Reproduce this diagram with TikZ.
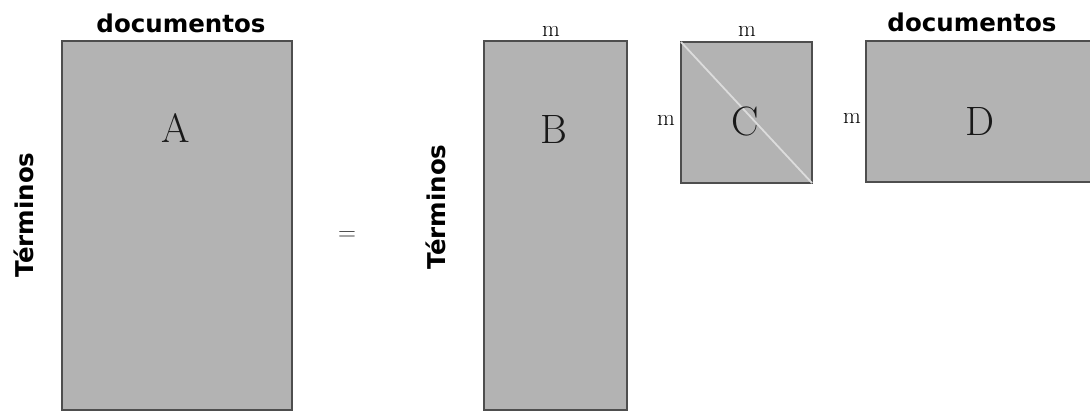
\documentclass[tikz,border=0pt]{standalone}
\usepackage{fontspec}
\newfontfamily\labfont{DejaVu Sans}
\definecolor{matfill}{HTML}{B3B3B3}
\definecolor{matedge}{HTML}{4E4E4E}
\definecolor{diagline}{HTML}{DCDCDC}
\tikzset{
  mat/.style={draw=matedge, fill=matfill, line width=1.4pt, inner sep=0pt, outer sep=0pt},
  big/.style={anchor=base, inner sep=0pt, font=\fontsize{41}{41}\selectfont, text=black!90},
  small/.style={anchor=base, inner sep=0pt, font=\fontsize{23}{23}\selectfont, text=black},
  axis/.style={anchor=base, inner sep=0pt, font=\labfont\bfseries\fontsize{24.5}{24.5}\selectfont},
  axisv/.style={axis, rotate=90}
}
\begin{document}
\begin{tikzpicture}[x=1pt, y=-1pt]
\useasboundingbox (0,0) rectangle (1090,412);
% matrices
\node[mat, minimum width=230pt, minimum height=369pt] (matA) at (177,225.5) {};
\node[mat, minimum width=143pt, minimum height=369pt] (matB) at (555.5,225.5) {};
\node[mat, minimum width=131pt, minimum height=141pt] (matC) at (746.5,112.5) {};
\node[mat, minimum width=230pt, minimum height=141pt] (matD) at (981,111.5) {};
\draw[diagline, line width=1.8pt] (matC.north west) -- (matC.south east);
% letters
\node[big] (lA) at (176,142) {A};
\node[big] (lB) at (554,143) {B};
\node[big] (lC) at (745,135) {C};
\node[big] (lD) at (980,135) {D};
% equals
\node[inner sep=0pt, font=\fontsize{40}{40}\selectfont, text=black!80] (eq) at (347,236) {$=$};
% m labels
\node[small] (mB) at (551,37) {m};
\node[small] (mC) at (747,37) {m};
\node[small] (mCl) at (666,125) {m};
\node[small] (mDl) at (852,123) {m};
% axis labels
\node[axis] (docA) at (181,32.5) {documentos};
\node[axis] (docD) at (972,32) {documentos};
\node[axisv] (terA) at (33,215) {Términos};
\node[axisv] (terB) at (445,207) {Términos};
\end{tikzpicture}
\end{document}
